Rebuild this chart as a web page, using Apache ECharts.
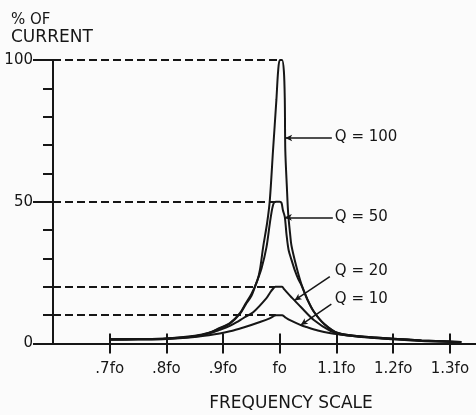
<!DOCTYPE html>
<html>
<head>
<meta charset="utf-8">
<script src="https://cdn.jsdelivr.net/npm/echarts@6/dist/echarts.min.js"></script>
<style>
  html, body { margin: 0; padding: 0; background: #fbfbfb; }
  #chart { width: 476px; height: 415px; }
</style>
</head>
<body>
<div id="chart"></div>
<script>
// Frequency axis ticks (fo = resonant frequency)
const tickFreqs = [0.7, 0.8, 0.9, 1.0, 1.1, 1.2, 1.3];
const tickLabels = ['.7fo', '.8fo', '.9fo', 'fo', '1.1fo', '1.2fo', '1.3fo'];

// Circuit Q of each resonance curve
const qValues = [100, 50, 20, 10];

// Q = 100
const q100Freq = [0.70, 0.75, 0.80, 0.85, 0.875, 0.894, 0.912, 0.93, 0.94, 0.95, 0.96, 0.965, 0.9706, 0.9776, 0.9824, 0.988, 0.994, 0.997, 1.000, 1.004, 1.0072, 1.0088, 1.0097, 1.0125, 1.0147, 1.018, 1.0206, 1.0294, 1.038, 1.049, 1.06, 1.078, 1.103, 1.15, 1.2, 1.25, 1.3, 1.32];
const q100Pct  = [1.5, 1.6, 1.8, 2.7, 3.8, 5.5, 7.2, 10.8, 14.2, 17.5, 22, 26, 34, 42.5, 50.6, 68, 86, 96, 100, 100, 96, 86, 68, 55, 46, 39, 34.5, 27, 21, 15.5, 11.3, 7, 3.7, 2.4, 1.7, 1.1, 0.7, 0.5];

// Q = 50
const q50Freq = [0.70, 0.75, 0.80, 0.85, 0.875, 0.894, 0.912, 0.93, 0.94, 0.95, 0.958, 0.9677, 0.9765, 0.9824, 0.9865, 0.9895, 0.993, 1.000, 1.003, 1.0055, 1.0088, 1.0118, 1.0155, 1.0206, 1.027, 1.033, 1.038, 1.049, 1.06, 1.078, 1.103, 1.15, 1.2, 1.25, 1.3, 1.32];
const q50Pct  = [1.5, 1.6, 1.8, 2.6, 3.7, 5.3, 7.0, 10.5, 13.8, 16.8, 21, 26.5, 34, 42.4, 47.5, 49.6, 50, 50, 49.6, 47, 44.7, 38.5, 33, 29.5, 25.5, 22.5, 20.6, 15.3, 11.2, 6.9, 3.6, 2.4, 1.7, 1.1, 0.7, 0.5];

// Q = 20
const q20Freq = [0.70, 0.75, 0.80, 0.85, 0.875, 0.894, 0.912, 0.924, 0.936, 0.953, 0.9765, 0.983, 0.9885, 0.992, 1.004, 1.0075, 1.022, 1.038, 1.06, 1.089, 1.114, 1.15, 1.2, 1.25, 1.3, 1.32];
const q20Pct  = [1.4, 1.5, 1.7, 2.5, 3.5, 4.8, 6.2, 7.5, 9.0, 11, 16, 18, 19.4, 20, 20, 19.2, 16, 12.7, 8.3, 4.5, 3.0, 2.3, 1.6, 1.0, 0.6, 0.5];

// Q = 10
const q10Freq = [0.70, 0.75, 0.80, 0.85, 0.875, 0.894, 0.912, 0.93, 0.94, 0.965, 0.98, 0.988, 0.993, 1.004, 1.009, 1.017, 1.038, 1.047, 1.067, 1.09, 1.105, 1.15, 1.2, 1.25, 1.3, 1.32];
const q10Pct  = [1.3, 1.4, 1.6, 2.3, 2.9, 3.5, 4.3, 5.3, 5.9, 7.6, 8.7, 9.5, 10, 10, 9.3, 8.3, 6.4, 5.8, 4.6, 3.6, 3.2, 2.2, 1.5, 0.9, 0.6, 0.5];

const curveFreqs = [q100Freq, q50Freq, q20Freq, q10Freq];
const curvePcts  = [q100Pct, q50Pct, q20Pct, q10Pct];

// Callout layout: level on the right flank where the pointer touches,
// end of the pointer, and where the "Q = n" text starts.
const calloutTipPct = [72.5, 44.5, 15.2, 6.5];
const calloutEnd    = [[1.0918, 72.5], [1.0935, 44.5], [1.0882, 23.6], [1.0909, 13.9]];
const calloutText   = [[1.097, 72.9], [1.097, 44.5], [1.097, 25.7], [1.097, 15.6]];

const INK = '#161616';
const FONT = 'DejaVu Sans';
const X_MIN = 0.6, X_MAX = 1.346;

// frequency where the falling (right) flank of a curve crosses a level
function rightFlankFreq(freq, pct, level) {
  let peak = 0;
  pct.forEach((v, i) => { if (v >= pct[peak]) peak = i; });
  for (let i = peak; i < pct.length - 1; i++) {
    if (pct[i] >= level && pct[i + 1] <= level) {
      const t = (pct[i] - level) / (pct[i] - pct[i + 1]);
      return freq[i] + t * (freq[i + 1] - freq[i]);
    }
  }
  return freq[peak];
}

// left corner of the flat top (first point reaching the peak value)
function peakStartFreq(freq, pct) {
  const top = Math.max.apply(null, pct);
  return freq[pct.indexOf(top)];
}

const series = qValues.map((q, k) => {
  const freq = curveFreqs[k], pct = curvePcts[k];
  const tipX = rightFlankFreq(freq, pct, calloutTipPct[k]);
  return {
    type: 'line',
    name: 'Q = ' + q,
    data: freq.map((f, i) => [f, pct[i]]),
    symbol: 'none',
    smooth: 0.3,
    silent: true,
    z: 3,
    lineStyle: { color: INK, width: 2 },
    markLine: {
      silent: true,
      animation: false,
      symbol: 'none',
      label: { show: false },
      data: [
        [
          { coord: [X_MIN, q], lineStyle: { color: INK, width: 2, type: [8, 4] } },
          { coord: [peakStartFreq(freq, pct), q] }
        ],
        [
          { coord: [tipX, calloutTipPct[k]], symbol: 'arrow', symbolSize: [5, 7],
            lineStyle: { color: INK, width: 1.5, type: 'solid' } },
          { coord: calloutEnd[k], symbol: 'none' }
        ]
      ]
    },
    markPoint: {
      silent: true,
      animation: false,
      data: [{
        coord: calloutText[k],
        symbol: 'circle',
        symbolSize: 0,
        label: {
          show: true, position: 'right', distance: 0,
          formatter: 'Q = ' + q,
          color: INK, fontSize: 15, fontFamily: FONT
        }
      }]
    }
  };
});

const chart = echarts.init(document.getElementById('chart'), null, { renderer: 'canvas' });
chart.setOption({
  animation: false,
  backgroundColor: '#fbfbfb',
  title: {
    left: 6, top: 6,
    text: '{a|% OF}\n{b|CURRENT}',
    textStyle: {
      fontWeight: 'normal',
      rich: {
        a: { fontSize: 15, lineHeight: 18, color: INK, fontFamily: FONT, fontWeight: 'normal' },
        b: { fontSize: 17, lineHeight: 18, color: INK, fontFamily: FONT, fontWeight: 'normal' }
      }
    }
  },
  grid: { left: 53, right: 0, top: 60, bottom: 71.5, containLabel: false, outerBoundsMode: 'none' },
  xAxis: [
    {
      type: 'value', min: X_MIN, max: X_MAX, interval: 0.1, position: 'bottom',
      axisLine: { show: true, lineStyle: { color: INK, width: 2 } },
      axisTick: { show: true, customValues: tickFreqs, length: 10, lineStyle: { color: INK, width: 2 } },
      axisLabel: {
        customValues: tickFreqs, margin: 18, fontSize: 15, color: INK, fontFamily: FONT,
        formatter: v => {
          const i = tickFreqs.findIndex(t => Math.abs(t - v) < 1e-6);
          return i < 0 ? '' : tickLabels[i];
        }
      },
      splitLine: { show: false },
      name: 'FREQUENCY SCALE', nameLocation: 'middle', nameGap: 52,
      nameTextStyle: { fontSize: 17, color: INK, fontFamily: FONT, padding: [0, 0, 0, 53] }
    },
    {
      type: 'value', min: X_MIN, max: X_MAX, interval: 0.1, position: 'bottom',
      axisLine: { show: false },
      axisTick: { show: true, inside: true, customValues: tickFreqs, length: 10, lineStyle: { color: INK, width: 2 } },
      axisLabel: { show: false },
      splitLine: { show: false }
    }
  ],
  yAxis: {
    type: 'value', min: 0, max: 100, interval: 50,
    axisLine: { show: true, lineStyle: { color: INK, width: 2 } },
    axisTick: { show: true, length: 20, lineStyle: { color: INK, width: 2 } },
    minorTick: { show: true, splitNumber: 5, length: 10, lineStyle: { color: INK, width: 2 } },
    axisLabel: { margin: 20, fontSize: 15, color: INK, fontFamily: FONT },
    splitLine: { show: false },
    minorSplitLine: { show: false }
  },
  series: series
});
</script>
</body>
</html>
